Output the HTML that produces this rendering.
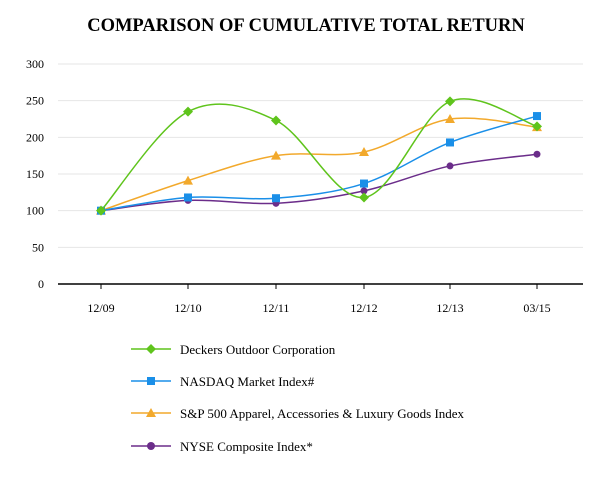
<!DOCTYPE html>
<html><head><meta charset="utf-8"><style>
body{margin:0;background:#fff;}
svg text{font-family:"Liberation Serif",serif;}
</style></head><body>
<svg id="s" width="613" height="480" xmlns="http://www.w3.org/2000/svg">
<text x="306" y="31" text-anchor="middle" font-size="18.5" font-weight="bold">COMPARISON OF CUMULATIVE TOTAL RETURN</text>
<g id="grid"></g>
<line x1="58" y1="284" x2="583" y2="284" stroke="#000" stroke-width="1.5"/>
<g id="series"></g>
<g font-size="13">
<line x1="131" y1="349" x2="171" y2="349" stroke="#5fc41c" stroke-width="1.5"/><path d="M151 344 L156 349 L151 354 L146 349Z" fill="#5fc41c"/>
<text x="180" y="354">Deckers Outdoor Corporation</text>
<line x1="131" y1="381" x2="171" y2="381" stroke="#1a8fe8" stroke-width="1.5"/><rect x="147" y="377" width="8" height="8" fill="#1a8fe8"/>
<text x="180" y="386">NASDAQ Market Index#</text>
<line x1="131" y1="413" x2="171" y2="413" stroke="#f2a92c" stroke-width="1.5"/><path d="M151 408 L156 417 L146 417Z" fill="#f2a92c"/>
<text x="180" y="418">S&amp;P 500 Apparel, Accessories &amp; Luxury Goods Index</text>
<line x1="131" y1="446" x2="171" y2="446" stroke="#6b2d8a" stroke-width="1.5"/><circle cx="151" cy="446" r="4" fill="#6b2d8a"/>
<text x="180" y="451">NYSE Composite Index*</text>
</g>
</svg>
<script>
var NS="http://www.w3.org/2000/svg",s=document.getElementById('s');
function el(p,t,a,txt){var e=document.createElementNS(NS,t);for(var k in a)e.setAttribute(k,a[k]);if(txt!=null)e.textContent=txt;document.getElementById(p).appendChild(e);return e;}
function Y(v){return 284-v*220/300;}
var X=[101,188,276,364,450,537],L=['12/09','12/10','12/11','12/12','12/13','03/15'];
for(var v=0;v<=300;v+=50){if(v>0)el('grid','line',{x1:58,x2:583,y1:Y(v),y2:Y(v),stroke:'#e6e6e6','stroke-width':1});el('grid','text',{x:44,y:Y(v)+4,'text-anchor':'end','font-size':12},v);}
X.forEach(function(x,i){el('grid','line',{x1:x,x2:x,y1:284,y2:289,stroke:'#000'});el('grid','text',{x:x,y:312,'text-anchor':'middle','font-size':12},L[i]);});
var S=[
['#6b2d8a',[100,114,110,127,161,177],'c'],
['#f2a92c',[100,141,175,180,225,214],'t'],
['#1a8fe8',[100,118,117,137,193,229],'s'],
['#5fc41c',[100,235,223,118,249,215],'d']];
S.forEach(function(sr){
var p=sr[1].map(function(v,i){return [X[i],Y(v)];}),d='M'+p[0];
for(var i=0;i<p.length-1;i++){var a=p[i-1]||p[i],b=p[i],c=p[i+1],e=p[i+2]||c;
d+=' C'+(b[0]+(c[0]-a[0])/6)+','+(b[1]+(c[1]-a[1])/6)+' '+(c[0]-(e[0]-b[0])/6)+','+(c[1]-(e[1]-b[1])/6)+' '+c[0]+','+c[1];}
el('series','path',{d:d,fill:'none',stroke:sr[0],'stroke-width':1.5});
p.forEach(function(q){var x=q[0],y=q[1];
if(sr[2]=='c')el('series','circle',{cx:x,cy:y,r:3.5,fill:sr[0]});
if(sr[2]=='s')el('series','rect',{x:x-4,y:y-4,width:8,height:8,fill:sr[0]});
if(sr[2]=='t')el('series','path',{d:'M'+x+' '+(y-5)+'L'+(x+5)+' '+(y+4)+'L'+(x-5)+' '+(y+4)+'Z',fill:sr[0]});
if(sr[2]=='d')el('series','path',{d:'M'+x+' '+(y-5)+'L'+(x+5)+' '+y+'L'+x+' '+(y+5)+'L'+(x-5)+' '+y+'Z',fill:sr[0]});
});});
</script>
</body></html>
